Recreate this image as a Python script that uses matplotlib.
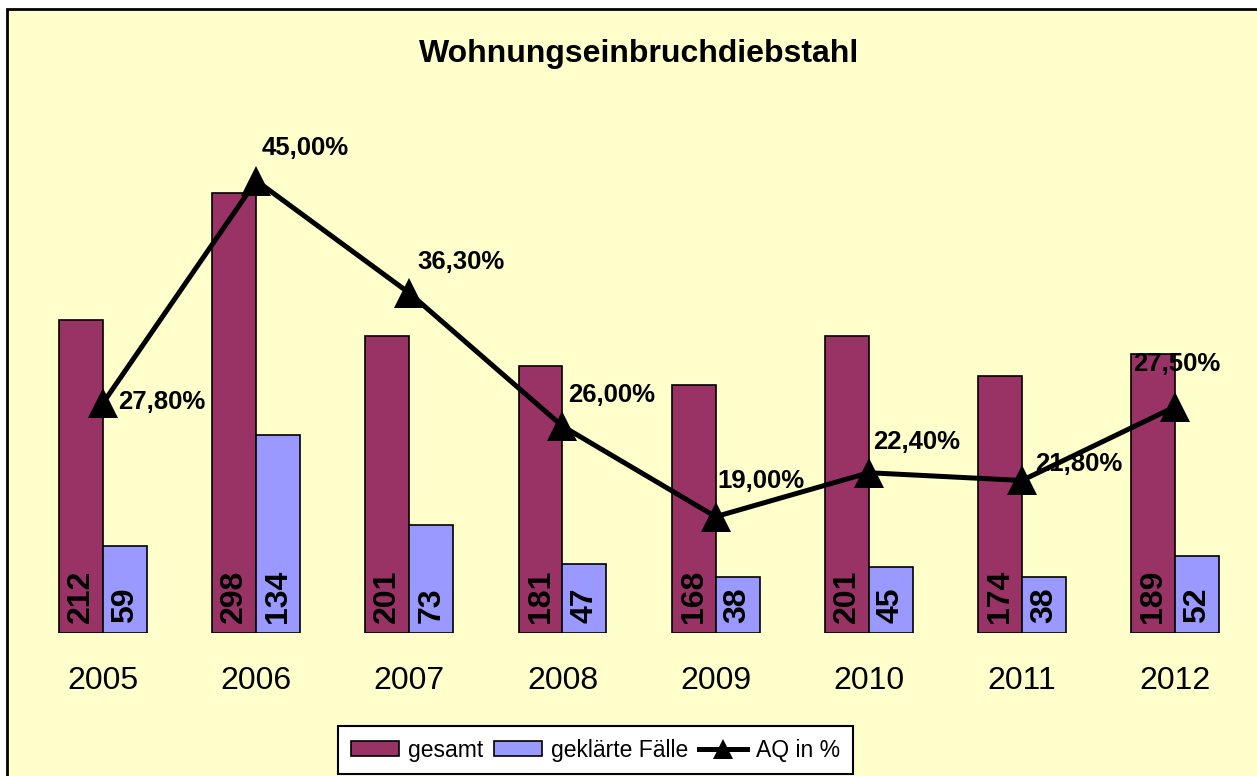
import matplotlib
matplotlib.use("Agg")
import matplotlib.pyplot as plt
from matplotlib.patches import Rectangle
from matplotlib.lines import Line2D
from matplotlib.patches import Patch
import numpy as np

plt.rcParams['font.family'] = ['Liberation Sans', 'DejaVu Sans']

years = ["2005", "2006", "2007", "2008", "2009", "2010", "2011", "2012"]
gesamt = [212, 298, 201, 181, 168, 201, 174, 189]
geklaert = [59, 134, 73, 47, 38, 45, 38, 52]
aq = [27.8, 45.0, 36.3, 26.0, 19.0, 22.4, 21.8, 27.5]
aq_labels = ["27,80%", "45,00%", "36,30%", "26,00%", "19,00%", "22,40%", "21,80%", "27,50%"]
title = "Wohnungseinbruchdiebstahl"

# label offsets in pixels (dx, dy), styling only
label_offsets = [(15, 1), (5, 33), (8, 31), (6, 31), (2, 36), (4, 31), (13, 16), (-42, 43)]

W, H = 1257, 776
fig = plt.figure(figsize=(W / 100, H / 100), dpi=100)
fig.patch.set_facecolor("white")
bg = Rectangle((7, -20), W + 50, H - 9 + 20, transform=None, facecolor="#FFFFCC",
               edgecolor="black", linewidth=2.0, zorder=-10)
fig.patches.append(bg)

ax1 = fig.add_axes([26.5 / W, 1 - 633 / H, (1251.6 - 26.5) / W, (633 - 116) / H])
ax1.patch.set_visible(False)
x = np.arange(len(years))
bw = 0.287
c1, c2 = "#993366", "#9999FF"
b1 = ax1.bar(x - bw / 2, gesamt, bw, color=c1, edgecolor="black", linewidth=1.2)
b2 = ax1.bar(x + bw / 2, geklaert, bw, color=c2, edgecolor="black", linewidth=1.2)
ax1.set_ylim(0, 350)
ax1.set_xlim(-0.5, len(years) - 0.5)
for xi, v in zip(x - bw / 2, gesamt):
    ax1.annotate(str(v), (xi, 0), xytext=(0, 10), textcoords="offset pixels",
                 rotation=90, ha="center", va="bottom", fontsize=23, fontweight="bold")
for xi, v in zip(x + bw / 2, geklaert):
    ax1.annotate(str(v), (xi, 0), xytext=(0, 10), textcoords="offset pixels",
                 rotation=90, ha="center", va="bottom", fontsize=23, fontweight="bold")
ax1.set_xticks(x)
ax1.set_xticklabels(years, fontsize=23)
ax1.tick_params(axis="x", length=0, pad=24)
ax1.set_yticks([])
for s in ax1.spines.values():
    s.set_visible(False)

ax2 = ax1.twinx()
ax2.patch.set_visible(False)
ax2.plot(x, aq, color="black", linewidth=3.6, marker="^", markersize=21,
         markeredgewidth=0, markerfacecolor="black")
ax2.set_ylim(10, 50)
ax2.set_yticks([])
for s in ax2.spines.values():
    s.set_visible(False)
for xi, v, lab, (dx, dy) in zip(x, aq, aq_labels, label_offsets):
    ax2.annotate(lab, (xi, v), xytext=(dx, dy), textcoords="offset pixels",
                 ha="left", va="center", fontsize=18.5, fontweight="bold")

fig.text(639 / W, 1 - 54 / H, title, ha="center", va="center", fontsize=23, fontweight="bold")

handles = [Patch(facecolor=c1, edgecolor="black", linewidth=1.2),
           Patch(facecolor=c2, edgecolor="black", linewidth=1.2),
           Line2D([], [], color="black", linewidth=3.6, marker="^", markersize=14, markeredgewidth=0)]
leg = fig.legend(handles, ["gesamt", "geklärte Fälle", "AQ in %"], loc="center",
                 bbox_to_anchor=(595.5 / W, 1 - 750 / H), ncol=3, fontsize=16.5,
                 frameon=True, fancybox=False, edgecolor="black", framealpha=1,
                 handlelength=2.1, handleheight=0.6, handletextpad=0.4,
                 columnspacing=0.45, borderpad=0.55, borderaxespad=0)
leg.get_frame().set_linewidth(1.5)

fig.savefig("out.png", dpi=100)
